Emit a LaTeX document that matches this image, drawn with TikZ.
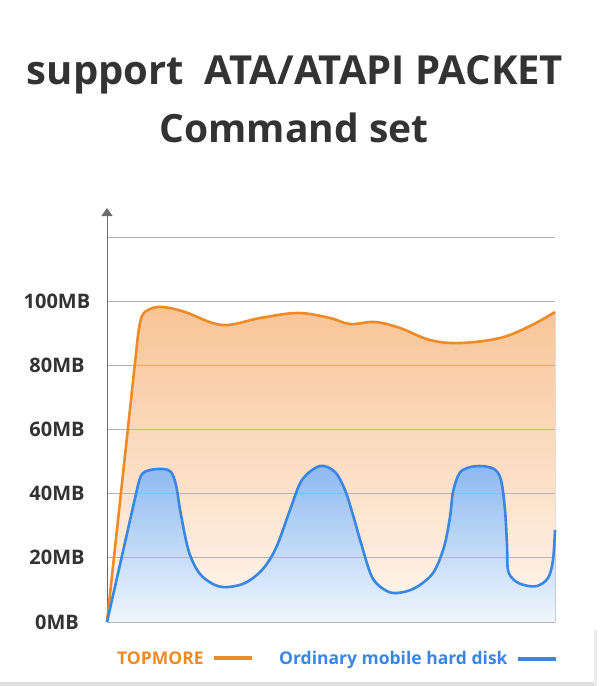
\documentclass[tikz,border=0pt]{standalone}
\usepackage{fontspec}
\setmainfont{Open Sans}
\usetikzlibrary{positioning}
\usetikzlibrary{arrows.meta}
\definecolor{textdark}{HTML}{333333}
\definecolor{orline}{HTML}{EE8B25}
\definecolor{orfill}{HTML}{F8C497}
\definecolor{orlow}{HTML}{FFF7F0}
\definecolor{blline}{HTML}{3A86E2}
\definecolor{blfill}{HTML}{8CB9F0}
\definecolor{bllow}{HTML}{F0F6FD}
\definecolor{gridgray}{HTML}{B4B4B4}
\tikzset{
    titlenode/.style = {anchor=base, font=\fontsize{40}{46}\selectfont\bfseries, text=textdark, inner sep=0pt},
    titlenodes/.style = {anchor=base, font=\fontsize{39}{45}\selectfont\bfseries, text=textdark, inner sep=0pt},
    ylabel/.style = {anchor=base, font=\fontsize{20}{24}\selectfont\bfseries, text=textdark, inner sep=0pt},
    legendo/.style = {anchor=base west, font=\fontsize{17.5}{20}\selectfont\bfseries, text=orline, inner sep=0pt},
    legendb/.style = {anchor=base west, font=\fontsize{17.5}{20}\selectfont\bfseries, text=blline, inner sep=0pt},
    gridline/.style = {-, line width=1pt, gridgray},
    axisline/.style = {-{Triangle[width=11pt,length=8pt]}, line width=1pt, gray!85!black},
    curveo/.style = {line width=2.6pt, orline, line join=round},
    curveb/.style = {line width=2.6pt, blline, line join=round},
    keyo/.style = {-, line width=4pt, orline},
    keyb/.style = {-, line width=4pt, blline}
}

\begin{document}
\begin{tikzpicture}[x=1pt, y=-1pt]
  \useasboundingbox (0,0) rectangle (600,686);
  % title
  \node[titlenode] (t1) at (295,84) {support\ \ ATA/ATAPI PACKET};
  \node[titlenodes] (t2) at (294,142) {Command set};
  % area fills
  \fill[top color=orfill, bottom color=orlow]
    (107,622) -- (138,335) -- plot[smooth, tension=0.6] coordinates {
      (138,335) (142,316) (150,309) (163,307) (185,312) (222,325) (260,318)
      (298,313) (330,318) (350,324) (375,322) (400,328) (430,340) (460,343)
      (500,338) (530,326) (555,312)} -- (555,622) -- cycle;
  \fill[top color=blfill, bottom color=bllow]
    (107,622) -- (138,485) -- plot[smooth, tension=0.55] coordinates {
      (138,485) (142,474) (150,470) (163,469) (171,472) (176,485) (181,515)
      (189,552) (200,574) (215,585) (228,587) (245,583) (262,570) (276,548)
      (290,510) (302,480) (320,466) (335,472) (345,490) (353,515) (361,543)
      (372,577) (385,590) (397,593) (415,588) (433,573) (444,547) (450,517)
      (453,492) (459,474) (467,468) (480,466) (494,469) (501,480) (505,510)
      (507,545) (508,570) (514,580) (524,585) (537,586) (548,578) (553,560)
      (555,530)} -- (555,622) -- cycle;
  % grid and labels
  \coordinate (o) at (107,622);
  \coordinate (top) at (107,208);
  \foreach \yy/\lab in {622/0MB,557/20MB,493/40MB,429/60MB,365/80MB,301/100MB}{
    \coordinate (gl\yy) at (107,\yy);
    \coordinate (gr\yy) at (555,\yy);
    \draw[gridline] (gl\yy) -- (gr\yy);
    \node[ylabel] (lab\yy) at (57,\yy+7) {\lab};
  }
  \coordinate (gl237) at (107,237);
  \coordinate (gr237) at (555,237);
  \draw[gridline] (gl237) -- (gr237);
  \draw[axisline] (o) -- (top);
  % curves
  \draw[curveo]
    (107,622) -- (138,335) -- plot[smooth, tension=0.6] coordinates {
      (138,335) (142,316) (150,309) (163,307) (185,312) (222,325) (260,318)
      (298,313) (330,318) (350,324) (375,322) (400,328) (430,340) (460,343)
      (500,338) (530,326) (555,312)};
  \draw[curveb]
    (107,622) -- (138,485) -- plot[smooth, tension=0.55] coordinates {
      (138,485) (142,474) (150,470) (163,469) (171,472) (176,485) (181,515)
      (189,552) (200,574) (215,585) (228,587) (245,583) (262,570) (276,548)
      (290,510) (302,480) (320,466) (335,472) (345,490) (353,515) (361,543)
      (372,577) (385,590) (397,593) (415,588) (433,573) (444,547) (450,517)
      (453,492) (459,474) (467,468) (480,466) (494,469) (501,480) (505,510)
      (507,545) (508,570) (514,580) (524,585) (537,586) (548,578) (553,560)
      (555,530)};
  % legend
  \node[legendo] (topm) at (117,664) {TOPMORE};
  \coordinate[right=10pt of topm.east] (ko1);
  \coordinate (ko2) at ([xshift=38pt]ko1);
  \draw[keyo] (ko1) -- (ko2);
  \node[legendb] (ordi) at (279,664) {Ordinary mobile hard disk};
  \coordinate[right=10pt of ordi.east] (kb1);
  \coordinate (kb2) at ([xshift=38pt]kb1);
  \draw[keyb] (kb1) -- (kb2);
  % shadow edge
  \fill[gray!25] (0,682) rectangle (596,686);
  \fill[gray!15] (594,630) rectangle (597,686);
\end{tikzpicture}
\end{document}
